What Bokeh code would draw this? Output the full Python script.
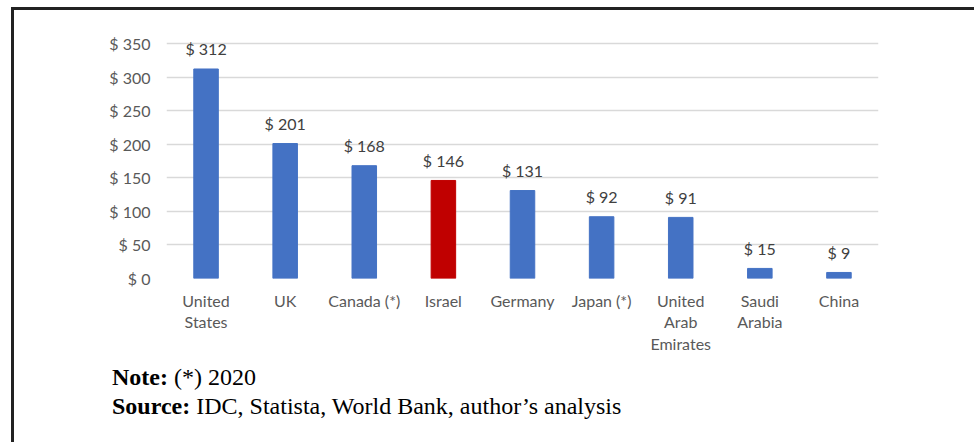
from bokeh.plotting import figure
from bokeh.layouts import column
from bokeh.models import ColumnDataSource, FactorRange, Range1d, FixedTicker, PrintfTickFormatter, Div
from bokeh.core.properties import value
from bokeh.embed import file_html
from bokeh.resources import INLINE

countries = ["United\nStates", "UK", "Canada (*)", "Israel", "Germany", "Japan (*)",
             "United\nArab\nEmirates", "Saudi\nArabia", "China"]
spending = [312, 201, 168, 146, 131, 92, 91, 15, 9]
highlight = "Israel"
y_ticks = [0, 50, 100, 150, 200, 250, 300, 350]
note_bold = "Note:"
note_text = "(*) 2020"
source_bold = "Source:"
source_text = "IDC, Statista, World Bank, author\u2019s analysis"

BLUE = "#4472C4"
RED = "#C00000"
FONT = "Lato"
SERIF = "Liberation Serif"
W = 960

src = ColumnDataSource(dict(
    country=countries,
    value=spending,
    label=["$ %d" % v for v in spending],
    color=[RED if c == highlight else BLUE for c in countries],
))

p = figure(
    x_range=FactorRange(*countries, range_padding=0),
    y_range=Range1d(0, 360.4),
    width=W, height=350,
    output_backend="svg", toolbar_location=None,
    min_border_left=152, min_border_right=96,
    min_border_top=26, min_border_bottom=82,
)
p.outline_line_color = None
p.background_fill_color = "white"
p.border_fill_color = "white"

p.vbar(x="country", top="value", width=0.31, color="color", source=src)
p.text(x="country", y="value", text="label", source=src,
       text_align="center", text_baseline="alphabetic", y_offset=-20,
       text_font=value(FONT), text_font_size="16px", text_color="#404040")

p.xgrid.grid_line_color = None
p.ygrid.grid_line_color = "#D9D9D9"
p.ygrid.grid_line_width = 1.5
p.ygrid.ticker = FixedTicker(ticks=y_ticks)

p.yaxis.ticker = FixedTicker(ticks=y_ticks)
p.yaxis.formatter = PrintfTickFormatter(format="$ %d")
p.yaxis.axis_line_color = None
p.yaxis.major_tick_line_color = None
p.yaxis.minor_tick_line_color = None
p.yaxis.major_tick_out = 0
p.yaxis.major_label_standoff = 16
p.yaxis.major_label_text_font = FONT
p.yaxis.major_label_text_font_size = "16px"
p.yaxis.major_label_text_color = "#595959"

p.xaxis.axis_line_color = None
p.xaxis.major_tick_line_color = None
p.xaxis.major_tick_out = 0
p.xaxis.major_label_standoff = 12
p.xaxis.major_label_text_font = FONT
p.xaxis.major_label_text_font_size = "16px"
p.xaxis.major_label_text_color = "#595959"
p.xaxis.major_label_text_line_height = 1.15

notes_html = (
    f'<div style="padding-left:98px; padding-top:3px; font-family:\'{SERIF}\', serif; '
    f'font-size:24px; line-height:29px; color:black; white-space:nowrap;">'
    f'<b>{note_bold}</b> {note_text}<br><b>{source_bold}</b> {source_text}</div>'
)
notes = Div(text=notes_html, width=W, height=82,
            styles={"margin": "0", "padding": "0"})

layout = column(p, notes, spacing=0,
                styles={"border-top": "3px solid #222222", "border-left": "3px solid #222222",
                        "margin-left": "11px", "margin-top": "7px"})

open("out.html", "w").write(file_html(layout, INLINE))
